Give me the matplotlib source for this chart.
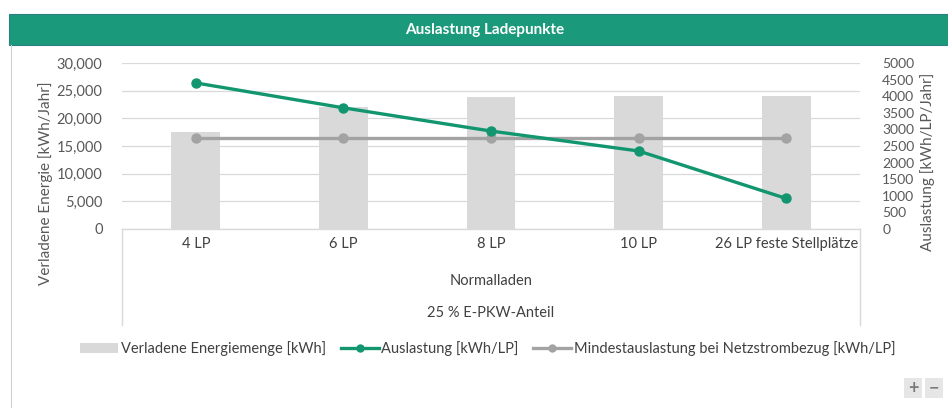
import matplotlib
matplotlib.use("Agg")
import matplotlib.pyplot as plt
from matplotlib.patches import Rectangle
from matplotlib.lines import Line2D
from matplotlib import font_manager

# data
categories = ["4 LP", "6 LP", "8 LP", "10 LP", "26 LP feste Stellplätze"]
energie = [17500, 22000, 23800, 24000, 24000]          # kWh/Jahr (left axis)
auslastung = [4400, 3650, 2950, 2350, 920]             # kWh/LP/Jahr (right axis)
mindest = [2750, 2750, 2750, 2750, 2750]               # kWh/LP/Jahr (right axis)
left_ticks = [0, 5000, 10000, 15000, 20000, 25000, 30000]
right_ticks = list(range(0, 5001, 500))

GREEN = "#12966f"
BANNER = "#1a9a7a"
GRAY_LINE = "#a3a3a3"
BAR = "#d9d9d9"
TXT = "#595959"

names = {f.name for f in font_manager.fontManager.ttflist}
base = "Lato" if "Lato" in names else "DejaVu Sans"
narrow = "Liberation Sans Narrow" if "Liberation Sans Narrow" in names else base
plt.rcParams["font.family"] = [base, "DejaVu Sans"]

fig = plt.figure(figsize=(9.48, 4.08), dpi=100)
W, H = 948, 408

def fx(px):
    return px / W

def fy(py):
    return 1 - py / H

# outer chart frame (left edge visible) and header banner
fig.add_artist(Line2D([fx(11), fx(11)], [fy(45), fy(408)], color="#d0d0d0", lw=0.8))
fig.add_artist(Rectangle((fx(9), fy(45)), 1 - fx(9), fy(14) - fy(45),
                         facecolor=BANNER, edgecolor="#2d7f86", lw=0.8,
                         transform=fig.transFigure))
fig.text(fx(485), fy(30), "Auslastung Ladepunkte", color="white",
         fontsize=11, fontweight="bold", ha="center", va="center")

ax = fig.add_axes([fx(122), fy(229), fx(860) - fx(122), fy(63) - fy(229)])
x = list(range(len(categories)))
ax.bar(x, energie, width=0.33, color=BAR, zorder=2)
ax.set_xlim(-0.5, len(categories) - 0.5)
ax.set_ylim(0, 30000)
ax.set_yticks(left_ticks)
ax.set_yticklabels([f"{v:,}" for v in left_ticks])
ax.grid(axis="y", color="#d9d9d9", lw=0.9, zorder=0)
for s in ax.spines.values():
    s.set_visible(False)
ax.tick_params(axis="y", length=0, pad=14, labelsize=10.5, labelcolor=TXT)
ax.set_xticks([])

ax2 = ax.twinx()
ax2.plot(x, mindest, color=GRAY_LINE, lw=2.4, marker="o", ms=6.5, zorder=3)
ax2.plot(x, auslastung, color=GREEN, lw=2.4, marker="o", ms=6.5, zorder=4)
ax2.set_ylim(0, 5000)
ax2.set_yticks(right_ticks)
ax2.set_yticklabels([str(v) for v in right_ticks])
for s in ax2.spines.values():
    s.set_visible(False)
ax2.tick_params(axis="y", length=0, pad=16, labelsize=10, labelcolor=TXT)

# category box below the plot
box_col = "#d9d9d9"
fig.add_artist(Line2D([fx(122), fx(860)], [fy(229), fy(229)], color=box_col, lw=1))
fig.add_artist(Line2D([fx(122), fx(122)], [fy(229), fy(325)], color=box_col, lw=1))
fig.add_artist(Line2D([fx(860), fx(860)], [fy(229), fy(325)], color=box_col, lw=1))
for i, c in enumerate(categories):
    ax.text(i, -0.09, c, transform=ax.get_xaxis_transform(), ha="center", va="center",
            fontsize=10.5, color="#404040", family=narrow)
fig.text(fx(491), fy(281), "Normalladen", ha="center", va="center",
         fontsize=10.5, color="#404040", family=narrow)
fig.text(fx(491), fy(313), "25 % E-PKW-Anteil", ha="center", va="center",
         fontsize=10.5, color="#404040", family=narrow)

# axis titles
fig.text(fx(46), fy(183), "Verladene Energie [kWh/Jahr]", rotation=90,
         ha="center", va="center", fontsize=11, color=TXT)
fig.text(fx(928), fy(162), "Auslastung [kWh/LP/Jahr]", rotation=90,
         ha="center", va="center", fontsize=11, color=TXT)

# legend
handles = [Rectangle((0, 0), 1, 1, facecolor=BAR, edgecolor="none"),
           Line2D([], [], color=GREEN, lw=2.4, marker="o", ms=5),
           Line2D([], [], color=GRAY_LINE, lw=2.4, marker="o", ms=5)]
labels = ["Verladene Energiemenge [kWh]", "Auslastung [kWh/LP]",
          "Mindestauslastung bei Netzstrombezug [kWh/LP]"]
fig.legend(handles, labels, loc="center", bbox_to_anchor=(fx(488), fy(349)),
           ncol=3, frameon=False, handlelength=2.6, handletextpad=0.2,
           columnspacing=1.0, prop={"family": narrow, "size": 10.5},
           labelcolor="#404040")

# zoom buttons in the corner
for px, sym in [(913, "+"), (934, "−")]:
    fig.add_artist(Rectangle((fx(px - 9), fy(398)), fx(18), fy(378) - fy(398),
                             facecolor="#e6e6e6", edgecolor="none",
                             transform=fig.transFigure))
    fig.text(fx(px), fy(388), sym, ha="center", va="center", fontsize=13,
             color="#7a7a7a", fontweight="bold")

fig.savefig("out.png", dpi=100)
